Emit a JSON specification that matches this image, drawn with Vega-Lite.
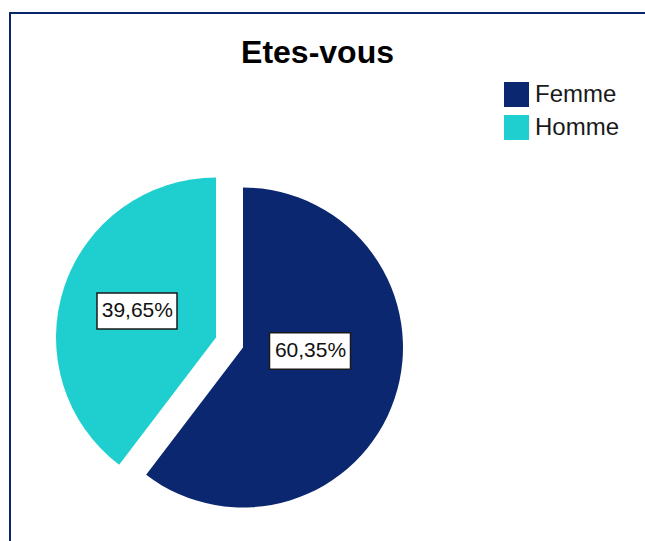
{
  "$schema": "https://vega.github.io/schema/vega-lite/v6.json",
  "autosize": "none",
  "padding": {"left": 10, "top": 13, "right": 0, "bottom": 0},
  "width": 635,
  "height": 528,
  "background": "white",
  "view": {"stroke": "#0a2668", "strokeWidth": 2, "strokeDash": [635, 1163, 528], "fill": "white"},
  "config": {
    "font": "Liberation Sans"
  },
  "title": {
    "text": "Etes-vous",
    "fontSize": 32,
    "fontWeight": "bold",
    "font": "Liberation Sans",
    "color": "#000000",
    "anchor": "middle",
    "baseline": "alphabetic",
    "dx": -10,
    "dy": 86
  },
  "data": {
    "values": [
      {"sexe": "Femme", "pct": 60.35, "label": "60,35%"},
      {"sexe": "Homme", "pct": 39.65, "label": "39,65%"}
    ]
  },
  "transform": [
    {"stack": "pct", "groupby": [], "sort": [{"field": "sexe", "order": "ascending"}], "as": ["v0", "v1"]},
    {"calculate": "(datum.v0 + datum.v1) / 2", "as": "mid"}
  ],
  "layer": [
    {
      "transform": [{"filter": "datum.sexe === 'Femme'"}],
      "mark": {"type": "arc", "radius": 160, "xOffset": -84.5, "yOffset": 70.5},
      "encoding": {
        "theta": {"field": "v0", "type": "quantitative", "scale": {"domain": [0, 100]}},
        "theta2": {"field": "v1"},
        "color": {
          "field": "sexe", "type": "nominal",
          "scale": {"domain": ["Femme", "Homme"], "range": ["#0b276f", "#1fcfcf"]},
          "legend": {
            "title": null,
            "orient": "none",
            "legendX": 494,
            "legendY": 69,
            "padding": 0,
            "symbolType": "square",
            "symbolSize": 625,
            "symbolStrokeWidth": 0,
            "symbolOpacity": 1,
            "labelFontSize": 24,
            "labelFont": "Liberation Sans",
            "labelColor": "#1a1a1a",
            "labelOffset": 6,
            "rowPadding": 8
          }
        }
      }
    },
    {
      "transform": [{"filter": "datum.sexe === 'Homme'"}],
      "mark": {"type": "arc", "radius": 160, "xOffset": -111.5, "yOffset": 60.5},
      "encoding": {
        "theta": {"field": "v0", "type": "quantitative", "scale": {"domain": [0, 100]}},
        "theta2": {"field": "v1"},
        "color": {"field": "sexe", "type": "nominal"}
      }
    },
    {
      "transform": [{"filter": "datum.sexe === 'Femme'"}],
      "mark": {"type": "point", "shape": "M-1,-0.45L1,-0.45L1,0.45L-1,0.45Z", "size": 6561, "filled": true, "fill": "white", "stroke": "#1a1a1a", "strokeWidth": 1.5, "opacity": 1, "xOffset": -17.5, "yOffset": 74},
      "encoding": {}
    },
    {
      "transform": [{"filter": "datum.sexe === 'Homme'"}],
      "mark": {"type": "point", "shape": "M-1,-0.45L1,-0.45L1,0.45L-1,0.45Z", "size": 6400, "filled": true, "fill": "white", "stroke": "#1a1a1a", "strokeWidth": 1.5, "opacity": 1, "xOffset": -190.5, "yOffset": 34},
      "encoding": {}
    },
    {
      "transform": [{"filter": "datum.sexe === 'Femme'"}],
      "mark": {"type": "text", "radius": 67, "xOffset": -84.5, "yOffset": 70.5, "dx": 4, "dy": -18, "fontSize": 21, "font": "Liberation Sans", "color": "#111111", "align": "center", "baseline": "middle"},
      "encoding": {
        "theta": {"field": "mid", "type": "quantitative", "scale": {"domain": [0, 100]}},
        "text": {"field": "label"}
      }
    },
    {
      "transform": [{"filter": "datum.sexe === 'Homme'"}],
      "mark": {"type": "text", "radius": 83, "xOffset": -111.5, "yOffset": 60.5, "fontSize": 21, "font": "Liberation Sans", "color": "#111111", "align": "center", "baseline": "middle"},
      "encoding": {
        "theta": {"field": "mid", "type": "quantitative", "scale": {"domain": [0, 100]}},
        "text": {"field": "label"}
      }
    }
  ]
}
